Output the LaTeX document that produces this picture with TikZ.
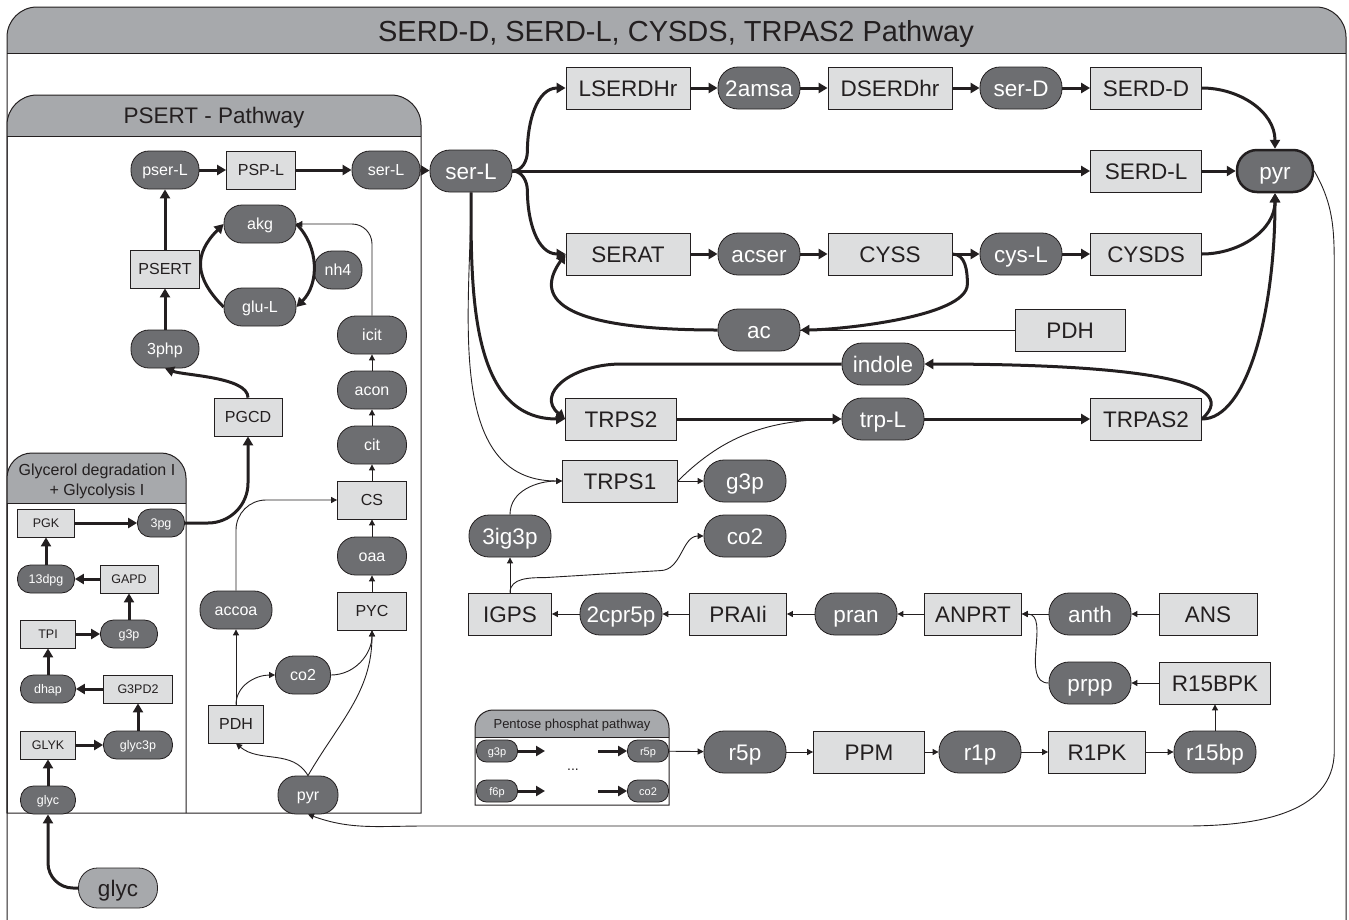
\documentclass[tikz,border=0pt]{standalone}
\usepackage{fontspec}
\setmainfont{Liberation Sans}
\usetikzlibrary{arrows.meta}

\definecolor{metfill}{RGB}{109, 110, 113}
\definecolor{enzfill}{RGB}{221, 222, 223}
\definecolor{hdrfill}{RGB}{167, 169, 172}
\definecolor{ink}{RGB}{35, 31, 32}

\tikzset{
  frame/.style={draw=ink, line width=1},
  enz/.style={draw=ink, line width=0.8, fill=enzfill, text=ink, inner sep=0},
  met/.style={draw=ink, line width=0.8, fill=metfill, text=white, inner sep=0},
  sizeL/.style={minimum height=42, text height=16, text depth=0, font=\fontsize{22.5}{27}\selectfont},
  sizeM/.style={minimum height=38, text height=11.5, text depth=0, font=\fontsize{16}{19}\selectfont},
  sizeS/.style={minimum height=28, text height=9, text depth=0, font=\fontsize{12.5}{15}\selectfont},
  enzL/.style={enz, sizeL, minimum width=#1}, enzL/.default=111,
  enzM/.style={enz, sizeM, minimum width=#1}, enzM/.default=69,
  enzS/.style={enz, sizeS, minimum width=#1}, enzS/.default=57,
  metL/.style={met, sizeL, rounded corners=20pt, minimum width=#1}, metL/.default=82,
  metM/.style={met, sizeM, rounded corners=18pt, minimum width=#1}, metM/.default=68,
  metS/.style={met, sizeS, rounded corners=13pt, minimum width=#1}, metS/.default=57,
  metXS/.style={met, minimum height=22, minimum width=41, rounded corners=10pt, text height=8, text depth=0, font=\fontsize{11}{13}\selectfont},
  heading/.style={text=ink, inner sep=0, text depth=0},
  flux/.style={draw=ink, line width=3, -{Triangle[length=9pt, width=10pt]}},
  flow/.style={draw=ink, line width=0.9, -{Triangle[length=6pt, width=6pt]}},
  flowline/.style={draw=ink, line width=0.9}
}

\begin{document}
\begin{tikzpicture}[x=1pt, y=1pt]
  \useasboundingbox (0, 0) rectangle (1349, -919);

  % frames
  \fill[hdrfill] (7, -53) -- (7, -37) arc[start angle=180, end angle=90, radius=30pt] -- (1316, -7) arc[start angle=90, end angle=0, radius=30pt] -- (1346, -53) -- cycle;
  \draw[frame] (7, -935) -- (7, -37) arc[start angle=180, end angle=90, radius=30pt] -- (1316, -7) arc[start angle=90, end angle=0, radius=30pt] -- (1346, -935);
  \draw[frame] (7, -53) -- (1346, -53);
  \node[heading, font=\fontsize{29}{34}\selectfont, text height=21] (title) at (676, -31) {SERD-D, SERD-L, CYSDS, TRPAS2 Pathway};

  \fill[hdrfill] (7, -136) -- (7, -125) arc[start angle=180, end angle=90, radius=30pt] -- (391, -95) arc[start angle=90, end angle=0, radius=30pt] -- (421, -136) -- cycle;
  \draw[frame] (7, -813) -- (7, -125) arc[start angle=180, end angle=90, radius=30pt] -- (391, -95) arc[start angle=90, end angle=0, radius=30pt] -- (421, -813) -- cycle;
  \draw[frame] (7, -136) -- (421, -136);
  \node[heading, font=\fontsize{22.5}{27}\selectfont, text height=16] (psertTitle) at (214, -115) {PSERT - Pathway};

  \fill[hdrfill] (7, -503) -- (7, -478) arc[start angle=180, end angle=90, radius=25pt] -- (161, -453) arc[start angle=90, end angle=0, radius=25pt] -- (186, -503) -- cycle;
  \draw[frame] (7, -813) -- (7, -478) arc[start angle=180, end angle=90, radius=25pt] -- (161, -453) arc[start angle=90, end angle=0, radius=25pt] -- (186, -813);
  \draw[frame] (7, -503) -- (186, -503);
  \node[font=\fontsize{16}{20}\selectfont, text=ink, align=center] (glyTitle) at (97, -481) {Glycerol degradation I\\+ Glycolysis I};

  \fill[hdrfill] (475, -737) -- (475, -728) arc[start angle=180, end angle=90, radius=18pt] -- (651, -710) arc[start angle=90, end angle=0, radius=18pt] -- (669, -737) -- cycle;
  \draw[frame] (475, -805) -- (475, -728) arc[start angle=180, end angle=90, radius=18pt] -- (651, -710) arc[start angle=90, end angle=0, radius=18pt] -- (669, -805) -- cycle;
  \draw[frame] (475, -737) -- (669, -737);
  \node[heading, font=\fontsize{13}{15}\selectfont, text height=9.3] (ppTitle) at (572, -724) {Pentose phosphat pathway};

  % serine degradation
  \node[enzL=124] (lserdhr) at (628, -88) {LSERDHr};
  \node[metL] (amsa) at (759, -88) {2amsa};
  \node[enzL=124] (dserdhr) at (890, -88) {DSERDhr};
  \node[metL] (serD) at (1021, -88) {ser-D};
  \node[enzL] (serdd) at (1146, -88) {SERD-D};
  \node[metL] (serL) at (471, -171) {ser-L};
  \node[enzL] (serdl) at (1146, -171) {SERD-L};
  \node[metL=76, line width=2.5] (pyr) at (1275, -171) {pyr};
  \node[enzL=124] (serat) at (628, -254) {SERAT};
  \node[metL] (acser) at (759, -254) {acser};
  \node[enzL=124] (cyss) at (890, -254) {CYSS};
  \node[metL] (cysL) at (1021, -254) {cys-L};
  \node[enzL] (cysds) at (1146, -254) {CYSDS};
  \node[metL] (ac) at (759, -330) {ac};
  \node[enzL=110] (pdhR) at (1070, -330) {PDH};

  % tryptophan
  \node[metL] (indole) at (883, -364) {indole};
  \node[enzL] (trps2) at (621, -419) {TRPS2};
  \node[metL] (trpL) at (883, -419) {trp-L};
  \node[enzL] (trpas2) at (1146, -419) {TRPAS2};
  \node[enzL=115] (trps1) at (620, -481) {TRPS1};
  \node[metL] (g3pR) at (745, -481) {g3p};
  \node[metL] (ig3p) at (510, -536) {3ig3p};
  \node[metL] (co2R) at (745, -536) {co2};
  \node[enzL=83] (igps) at (510, -614) {IGPS};
  \node[metL] (cpr5p) at (621, -614) {2cpr5p};
  \node[enzL=97] (praii) at (738, -614) {PRAIi};
  \node[metL] (pran) at (856, -614) {pran};
  \node[enzL=97] (anprt) at (973, -614) {ANPRT};
  \node[metL] (anth) at (1090, -614) {anth};
  \node[enzL=98] (ans) at (1208, -614) {ANS};
  \node[metL] (prpp) at (1090, -683) {prpp};
  \node[enzL] (r15bpk) at (1215, -683) {R15BPK};
  \node[metL] (r5p) at (745, -752) {r5p};
  \node[enzL] (ppm) at (869, -752) {PPM};
  \node[metL] (r1p) at (980, -752) {r1p};
  \node[enzL=97] (r1pk) at (1097, -752) {R1PK};
  \node[metL] (r15bp) at (1215, -752) {r15bp};

  % pentose phosphat
  \node[metXS] (ppG3p) at (497, -751) {g3p};
  \node[metXS] (ppR5p) at (648, -751) {r5p};
  \node[metXS] (ppF6p) at (497, -791) {f6p};
  \node[metXS] (ppCo2) at (648, -791) {co2};
  \node[font=\fontsize{14}{16}\selectfont, text=ink] (ppDots) at (573, -770) {...};
  \coordinate (ppA) at (545, -751);
  \coordinate (ppB) at (598, -751);
  \coordinate (ppC) at (545, -791);
  \coordinate (ppD) at (598, -791);

  % PSERT pathway
  \node[metM] (pserL) at (165, -170) {pser-L};
  \node[enzM] (pspL) at (261, -170) {PSP-L};
  \node[metM] (serLs) at (386, -170) {ser-L};
  \node[metM=72] (akg) at (260, -224) {akg};
  \node[enzM] (psert) at (165, -269) {PSERT};
  \node[metM=48] (nh4) at (338, -270) {nh4};
  \node[metM=72] (gluL) at (260, -307) {glu-L};
  \node[metM] (php) at (165, -349) {3php};
  \node[enzM=68] (pgcd) at (248, -417) {PGCD};
  \node[metM=69] (icit) at (372, -335) {icit};
  \node[metM=69] (acon) at (372, -390) {acon};
  \node[metM=69] (cit) at (372, -445) {cit};
  \node[enzM] (cs) at (372, -500) {CS};
  \node[metM=69] (oaa) at (372, -556) {oaa};
  \node[enzM] (pyc) at (372, -611) {PYC};
  \node[metM=72] (accoa) at (236, -610) {accoa};
  \node[metM=55] (co2L) at (303, -675) {co2};
  \node[enzM=55] (pdhL) at (236, -724) {PDH};
  \node[metM=60] (pyrL) at (308, -795) {pyr};

  % glycerol
  \node[enzS] (pgk) at (46, -523) {PGK};
  \node[metS=47] (pg) at (161, -523) {3pg};
  \node[metS] (dpg) at (46, -579) {13dpg};
  \node[enzS=58] (gapd) at (129, -579) {GAPD};
  \node[enzS=55] (tpi) at (48, -634) {TPI};
  \node[metS] (g3pL) at (129, -634) {g3p};
  \node[metS=55] (dhap) at (48, -689) {dhap};
  \node[enzS=69] (g3pd2) at (138, -689) {G3PD2};
  \node[enzS=55] (glyk) at (48, -745) {GLYK};
  \node[metS=69] (glyc3p) at (138, -745) {glyc3p};
  \node[metS=55] (glycS) at (48, -800) {glyc};
  \node[met, sizeL, minimum height=40, minimum width=79, rounded corners=19pt, fill=hdrfill, text=ink] (glycB) at (118, -888) {glyc};

  % connectors
  \draw[flux] (serL.east) to[out=0, in=-90] ++(15, 20) to[out=90, in=180] (lserdhr.west);
  \draw[flux] (serL.east) -- (serdl.west);
  \draw[flux] (serL.east) to[out=0, in=90] ++(15, -20) to[out=-90, in=180] (serat.west);
  \draw[flux] (serL.south) to[out=-90, in=180] (trps2.west);
  \draw[flow] (serL.south) to[out=-90, in=180] (trps1.west);

  \draw[flux] (lserdhr) -- (amsa);
  \draw[flux] (amsa) -- (dserdhr);
  \draw[flux] (dserdhr) -- (serD);
  \draw[flux] (serD) -- (serdd);
  \draw[flux] (serdd.east) to[out=0, in=90] (pyr.north);
  \draw[flux] (serdl) -- (pyr);
  \draw[flux] (serat) -- (acser);
  \draw[flux] (acser) -- (cyss);
  \draw[flux] (cyss) -- (cysL);
  \draw[flux] (cysL) -- (cysds);
  \draw[flux] (cysds.east) to[out=0, in=-90] (pyr.south);
  \draw[flux] (cyss.east) to[out=0, in=90] ++(15, -30) to[out=-90, in=0, looseness=0.5] (ac.east);
  \draw[flux] (ac.west) .. controls +(-180, 0) and +(-25, -35) .. (serat.west);
  \draw[flowline] (pdhR) -- (ac);

  \draw[flux] (indole.west) -- ++(-220, 0) .. controls +(-50, 0) and +(-30, 25) .. (trps2.west);
  \draw[flux] (trps2) -- (trpL);
  \draw[flux] (trpL) -- (trpas2);
  \draw[flux] (trpas2.east) .. controls +(45, 40) and +(200, 0) .. (indole.east);
  \draw[flux] (trpas2.east) .. controls +(45, 0) and +(0, -120) .. (pyr.south);
  \draw[flowline] (trps1.east) to[out=45, in=180] (trpL.west);
  \draw[flow] (trps1) -- (g3pR);
  \draw[flow] (ig3p.north) to[out=90, in=180] (trps1.west);
  \draw[flow] (igps) -- (ig3p);
  \draw[flow] (igps.north) to[out=90, in=180] ++(35, 15) -- ++(115, 7) to[out=0, in=180] (co2R.west);

  \draw[flow] (cpr5p) -- (igps);
  \draw[flow] (praii) -- (cpr5p);
  \draw[flow] (pran) -- (praii);
  \draw[flow] (anprt) -- (pran);
  \draw[flow] (anth) -- (anprt);
  \draw[flow] (ans) -- (anth);
  \draw[flow] (prpp.west) to[out=180, in=0] (anprt.east);
  \draw[flow] (r15bpk) -- (prpp);
  \draw[flow] (r15bp) -- (r15bpk);
  \draw[flow] (ppR5p) -- (r5p);
  \draw[flow] (r5p) -- (ppm);
  \draw[flow] (ppm) -- (r1p);
  \draw[flow] (r1p) -- (r1pk);
  \draw[flow] (r1pk) -- (r15bp);
  \draw[flux] (ppG3p) -- (ppA);
  \draw[flux] (ppB) -- (ppR5p);
  \draw[flux] (ppF6p) -- (ppC);
  \draw[flux] (ppD) -- (ppCo2);

  \draw[flow] (pyr.east) to[out=-60, in=90] ++(20, -100) -- ++(0, -480) to[out=-90, in=0] ++(-150, -75) -- ++(-760, 0) to[out=180, in=-20] (pyrL.south);

  \draw[flux] (pserL) -- (pspL);
  \draw[flux] (pspL) -- (serLs);
  \draw[flux] (serLs) -- (serL);
  \draw[flux] (psert) -- (pserL);
  \draw[flux] (php) -- (psert);
  \draw[flux] (pgcd.north) to[out=90, in=-20, looseness=0.6] (php.south);
  \draw[flux, rounded corners=40pt] (pg.east) -| (pgcd.south);
  \draw[flux] (gluL.west) to[out=135, in=225, looseness=1.3] (akg.west);
  \draw[flux] (akg.east) to[out=-45, in=45] (gluL.east);
  \draw[flow, rounded corners=20pt] (icit.north) |- (akg.east);
  \draw[flow] (cs) -- (cit);
  \draw[flow] (cit) -- (acon);
  \draw[flow] (acon) -- (icit);
  \draw[flow] (oaa) -- (cs);
  \draw[flow] (pyc) -- (oaa);
  \draw[flow, rounded corners=30pt] (accoa.north) |- (cs.west);
  \draw[flow] (pdhL) -- (accoa);
  \draw[flow] (pdhL.north) to[out=90, in=180] (co2L.west);
  \draw[flow] (co2L.east) to[out=0, in=-90] (pyc.south);
  \draw[flow] (pyrL.north) to[out=60, in=-90] (pyc.south);
  \draw[flow] (pyrL.north) to[out=120, in=-40] (pdhL.south);

  \draw[flux, rounded corners=25pt] (glycB.west) -| (glycS.south);
  \draw[flux] (glycS) -- (glyk);
  \draw[flux] (glyk) -- (glyc3p);
  \draw[flux] (glyc3p) -- (g3pd2);
  \draw[flux] (g3pd2) -- (dhap);
  \draw[flux] (dhap) -- (tpi);
  \draw[flux] (tpi) -- (g3pL);
  \draw[flux] (g3pL) -- (gapd);
  \draw[flux] (gapd) -- (dpg);
  \draw[flux] (dpg) -- (pgk);
  \draw[flux] (pgk) -- (pg);
\end{tikzpicture}
\end{document}
